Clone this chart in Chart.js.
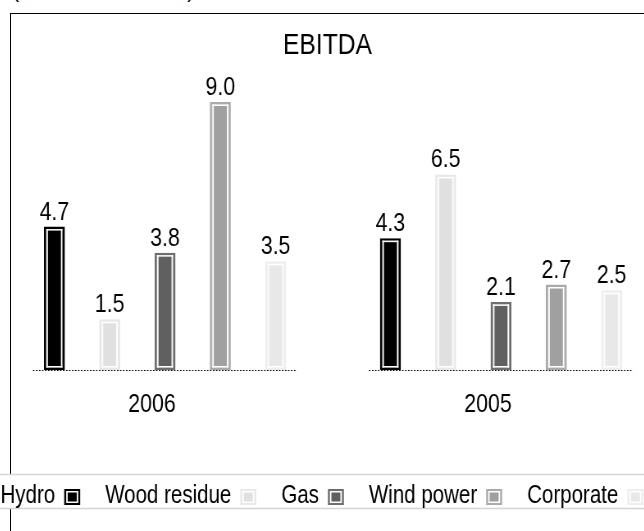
<!DOCTYPE html>
<html><head><meta charset="utf-8">
<script src="https://cdn.jsdelivr.net/npm/chart.js@4.4.1/dist/chart.umd.min.js"></script>
<style>
html,body{margin:0;padding:0;width:644px;height:531px;overflow:hidden;background:#fff;}
#cap{position:absolute;left:12px;top:-25.5px;font:26px/26px "Liberation Sans",Arial,sans-serif;color:#000;white-space:nowrap;transform:scaleX(0.82);transform-origin:0 0;}
#frame{position:absolute;left:10px;top:13px;width:700px;height:600px;border-left:1px solid #000;border-top:1px solid #000;}
#c{position:absolute;left:-20px;top:0;transform:scaleX(0.82);transform-origin:0 0;}
</style></head><body>
<div id="cap">(in millions of EUR)</div>
<div id="frame"></div>
<canvas id="c" width="854" height="531"></canvas>
<script>
const FONT = '"Liberation Sans", Arial, sans-serif';
const SX = 0.82;          // horizontal condensing of the canvas (narrow type face)
const CANVAS_LEFT = -20;  // page x of the canvas left edge
const categories = ['2006', '2005'];
const seriesNames = ['Hydro', 'Wood residue', 'Gas', 'Wind power', 'Corporate'];
const hydro = [4.7, 4.3];
const woodResidue = [1.5, 6.5];
const gas = [3.8, 2.1];
const windPower = [9.0, 2.7];
const corporate = [3.5, 2.5];
const seriesValues = [hydro, woodResidue, gas, windPower, corporate];
const fills = ['#000000', '#e0e0e0', '#606060', '#a0a0a0', '#e8e8e8'];
const borders = ['#000000', '#e8e8e8', '#6e6e6e', '#aaaaaa', '#eeeeee'];
const Y_MIN = -0.25, Y_MAX = 9.62;

const barDecor = {
  id: 'barDecor',
  afterDatasetsDraw(chart) {
    const ctx = chart.ctx;
    ctx.save();
    chart.data.datasets.forEach((ds, di) => {
      const meta = chart.getDatasetMeta(di);
      meta.data.forEach((el, i) => {
        const p = el.getProps(['x', 'y', 'base', 'width'], true);
        const ix = 2.5 / SX, iy = 2.5, gx = 1.5 / SX, gy = 1.5;
        const l = p.x - p.width / 2, t = p.y, w = p.width, h = p.base - p.y;
        ctx.fillStyle = '#ffffff';
        ctx.fillRect(l + ix, t + iy, w - 2 * ix, gy);
        ctx.fillRect(l + ix, t + h - iy - gy, w - 2 * ix, gy);
        ctx.fillRect(l + ix, t + iy, gx, h - 2 * iy);
        ctx.fillRect(l + w - ix - gx, t + iy, gx, h - 2 * iy);
        ctx.fillStyle = '#000';
        ctx.font = '26px ' + FONT;
        ctx.textAlign = 'center';
        ctx.textBaseline = 'alphabetic';
        ctx.fillText(ds.data[i].toFixed(1), p.x, p.y - 7);
      });
    });
    const xs = chart.scales.x;
    const half = (xs.width / categories.length) * 0.393;
    ctx.strokeStyle = '#000';
    ctx.lineWidth = 1;
    ctx.setLineDash([1.5 / SX, 1.5 / SX]);
    const yb = Math.round(chart.chartArea.bottom) + 0.5;
    categories.forEach((c, i) => {
      const cx = xs.getPixelForValue(i);
      ctx.beginPath();
      ctx.moveTo(cx - half, yb);
      ctx.lineTo(cx + half, yb);
      ctx.stroke();
    });
    ctx.restore();
  }
};

const customLegend = {
  id: 'customLegend',
  afterDraw(chart) {
    const ctx = chart.ctx;
    const top = 474, bottom = 508;
    ctx.save();
    ctx.fillStyle = '#ffffff';
    ctx.fillRect(0, top, chart.width, bottom - top);
    ctx.strokeStyle = '#d4d4d4';
    ctx.lineWidth = 1.5;
    ctx.beginPath();
    ctx.moveTo(0, top + 0.5); ctx.lineTo(chart.width, top + 0.5);
    ctx.moveTo(0, bottom + 0.5); ctx.lineTo(chart.width, bottom + 0.5);
    ctx.stroke();
    ctx.font = '25px ' + FONT;
    ctx.textBaseline = 'alphabetic';
    ctx.textAlign = 'left';
    const baseY = 503;
    let x = (0.5 - CANVAS_LEFT) / SX;
    const box = 16, bt = 489;
    chart.data.datasets.forEach((ds) => {
      ctx.fillStyle = '#000';
      ctx.fillText(ds.label, x, baseY);
      x += ctx.measureText(ds.label).width + 9 / SX;
      ctx.fillStyle = ds.borderColor;
      ctx.fillRect(x, bt, box / SX, box);
      ctx.fillStyle = '#fff';
      ctx.fillRect(x + 2 / SX, bt + 2, (box - 4) / SX, box - 4);
      ctx.fillStyle = ds.backgroundColor;
      ctx.fillRect(x + 3.5 / SX, bt + 3.5, (box - 7) / SX, box - 7);
      x += (box + 25) / SX;
    });
    ctx.restore();
  }
};

new Chart(document.getElementById('c'), {
  type: 'bar',
  data: {
    labels: categories,
    datasets: seriesNames.map((name, i) => ({
      label: name,
      data: seriesValues[i],
      backgroundColor: fills[i],
      borderColor: borders[i],
      borderWidth: 2.5,
      borderSkipped: false,
      base: Y_MIN,
      categoryPercentage: 0.823,
      barPercentage: 0.38
    }))
  },
  options: {
    responsive: false,
    animation: false,
    devicePixelRatio: 1,
    layout: { padding: { left: 7.32, right: 13.76, top: 0, bottom: 0 } },
    plugins: {
      legend: { display: false },
      tooltip: { enabled: false },
      title: {
        display: true,
        text: 'EBITDA',
        color: '#000',
        font: { family: FONT, size: 30, weight: 'normal' },
        padding: { top: 28, bottom: 20 }
      }
    },
    scales: {
      x: {
        grid: { display: false, drawTicks: false },
        border: { display: false },
        ticks: { color: '#000', font: { family: FONT, size: 26 }, padding: 19, labelOffset: -13 / SX, maxRotation: 0 },
        afterFit: (s) => { s.height = 161; }
      },
      y: {
        min: Y_MIN, max: Y_MAX,
        grid: { display: false, drawTicks: false },
        border: { display: false },
        ticks: { display: false },
        afterFit: (s) => { s.width = 13.41; }
      }
    }
  },
  plugins: [barDecor, customLegend]
});
</script>
</body></html>
